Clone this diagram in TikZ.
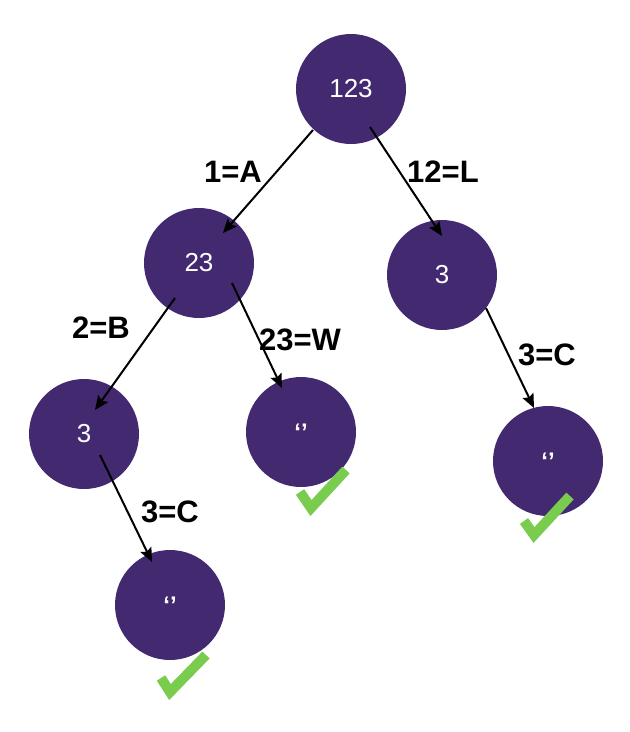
\documentclass[tikz,border=0pt]{standalone}
\usepackage{fontspec}
\setmainfont{Liberation Sans}
\usetikzlibrary{arrows.meta,calc}
\definecolor{nodepurple}{RGB}{66,41,112}
\definecolor{checkgreen}{RGB}{122,204,78}
\tikzset{
  tnode/.style={circle,fill=nodepurple,draw=none,minimum size=110pt,inner sep=0pt,
    text=white,font=\fontsize{26}{26}\selectfont},
  leafnode/.style={tnode,font=\fontsize{24}{24}\selectfont\bfseries},
  elabel/.style={font=\fontsize{31}{31}\selectfont\bfseries,inner sep=0pt},
  edge/.style={line width=2pt,-{Stealth[length=14pt,width=12pt,inset=2.5pt]}},
  checkmark/.style={draw=checkgreen,line width=10pt,line join=miter,line cap=butt}
}
\begin{document}
\begin{tikzpicture}[x=1pt,y=-1pt]
\useasboundingbox (0,0) rectangle (630,732);
% nodes
\node[tnode] (root) at (351,89) {123};
\node[tnode] (n23) at (199,263) {23};
\node[tnode] (r3) at (442,275) {3};
\node[tnode] (l3) at (84,434) {3};
\node[leafnode] (m) at (301,432) {‘’};
\node[leafnode] (rl) at (548,461) {‘’};
\node[leafnode] (bl) at (170,605) {‘’};
% edges
\draw[edge] ($(root)+(-38,41)$) -- ($(n23)+(24,-30)$);
\draw[edge] ($(root)+(19,38)$) -- ($(r3)+(0,-39)$);
\draw[edge] ($(n23)+(-24,35)$) -- ($(l3)+(11,-24)$);
\draw[edge] ($(n23)+(33,20)$) -- ($(m)+(-19,-44)$);
\draw[edge] ($(r3)+(44,33)$) -- ($(rl)+(-14,-53)$);
\draw[edge] ($(l3)+(16,21)$) -- ($(bl)+(-18,-43)$);
% edge labels
\node[elabel] (la) at (233,172) {1=A};
\node[elabel] (ll) at (443,172) {12=L};
\node[elabel] (lb) at (101,328) {2=B};
\node[elabel] (lw) at (300,340) {23=W};
\node[elabel] (lc1) at (547,355) {3=C};
\node[elabel] (lc2) at (170,512) {3=C};
% checkmarks
\draw[checkmark] (300,492) -- (311,508) -- (346,470);
\draw[checkmark] (524,521) -- (534,535) -- (570,496);
\draw[checkmark] (161,678) -- (170,692) -- (206,655);
\end{tikzpicture}
\end{document}
